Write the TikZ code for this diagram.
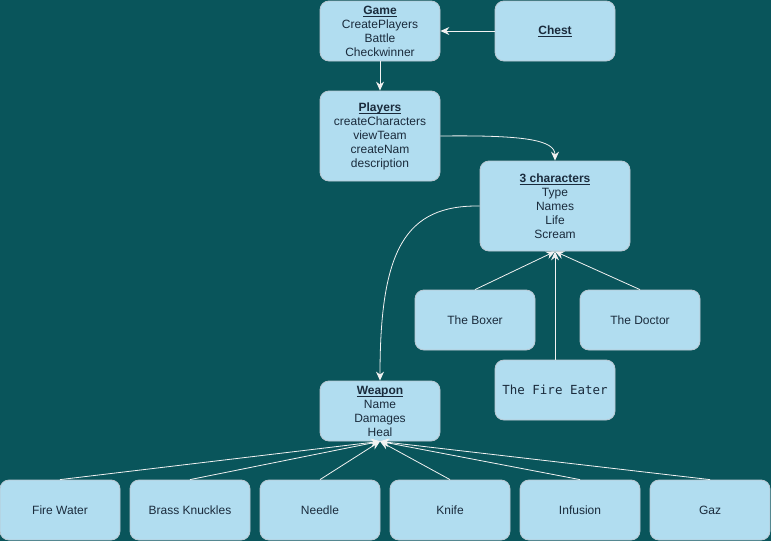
\documentclass[tikz,border=0pt]{standalone}
\usepackage{fontspec}
\setmainfont{Liberation Sans}
\newfontfamily\monofnt{DejaVu Sans Mono}
\usetikzlibrary{arrows.meta}
\definecolor{bgteal}{HTML}{09555B}
\definecolor{boxfill}{HTML}{B1DDF0}
\definecolor{boxline}{HTML}{BAC8D3}
\definecolor{txt}{HTML}{1A2B3C}
\definecolor{edge}{HTML}{F2F2F2}
\newcommand\ttl[1]{\setbox0\hbox{\textbf{#1}}\rlap{\rule[-2.2pt]{\wd0}{0.7pt}}\box0}
\tikzset{
  box/.style={draw=boxline, fill=boxfill, rounded corners=9pt, line width=0.8pt,
    minimum width=120pt, minimum height=60pt, inner sep=0pt, align=center,
    text=txt, font=\fontsize{12}{14}\selectfont},
  tallbox/.style={box, minimum height=90pt},
  widebox/.style={box, minimum width=150pt, minimum height=90pt},
  conn/.style={draw=edge, line width=0.8pt, -{Stealth[length=9pt,width=8pt,inset=3pt,fill=edge]}},
}
\begin{document}
\begin{tikzpicture}[x=1pt,y=-1pt]
\fill[bgteal] (0,0) rectangle (771,541);
\useasboundingbox (0,0) rectangle (771,541);
\node[box] (game) at (380,31) {\ttl{Game}\\CreatePlayers\\Battle\\Checkwinner};
\node[box] (chest) at (555,31) {\ttl{Chest}};
\node[tallbox] (players) at (380,136) {\ttl{Players}\\createCharacters\\viewTeam\\createNam\\description};
\node[widebox] (chars) at (555,206) {\ttl{3 characters}\\Type\\Names\\Life\\Scream};
\node[box] (boxer) at (475,320) {The Boxer};
\node[box] (doctor) at (640,320) {The Doctor};
\node[box, font=\monofnt\fontsize{12.5}{14}\selectfont] (eater) at (555,390) {The Fire Eater};
\node[box] (weapon) at (380,411) {\ttl{Weapon}\\Name\\Damages\\Heal};
\node[box] (firewater) at (60,510) {Fire Water};
\node[box] (brass) at (190,510) {Brass Knuckles};
\node[box] (needle) at (320,510) {Needle};
\node[box] (knife) at (450,510) {Knife};
\node[box] (infusion) at (580,510) {Infusion};
\node[box] (gaz) at (710,510) {Gaz};

\draw[conn] (chest.west) -- (game.east);
\draw[conn] (game.south) -- (players.north);
\draw[conn] (players.east) .. controls (525,135) and (555,140) .. (chars.north);
\draw[conn] (chars.west) .. controls (405,205) and (380,250) .. (weapon.north);
\draw[conn] (boxer.north) -- (chars.south);
\draw[conn] (doctor.north) -- (chars.south);
\draw[conn] (eater.north) -- (chars.south);
\foreach \n in {firewater,brass,needle,knife,infusion,gaz}
  \draw[conn] (\n.north) -- (weapon.south);
\end{tikzpicture}
\end{document}
